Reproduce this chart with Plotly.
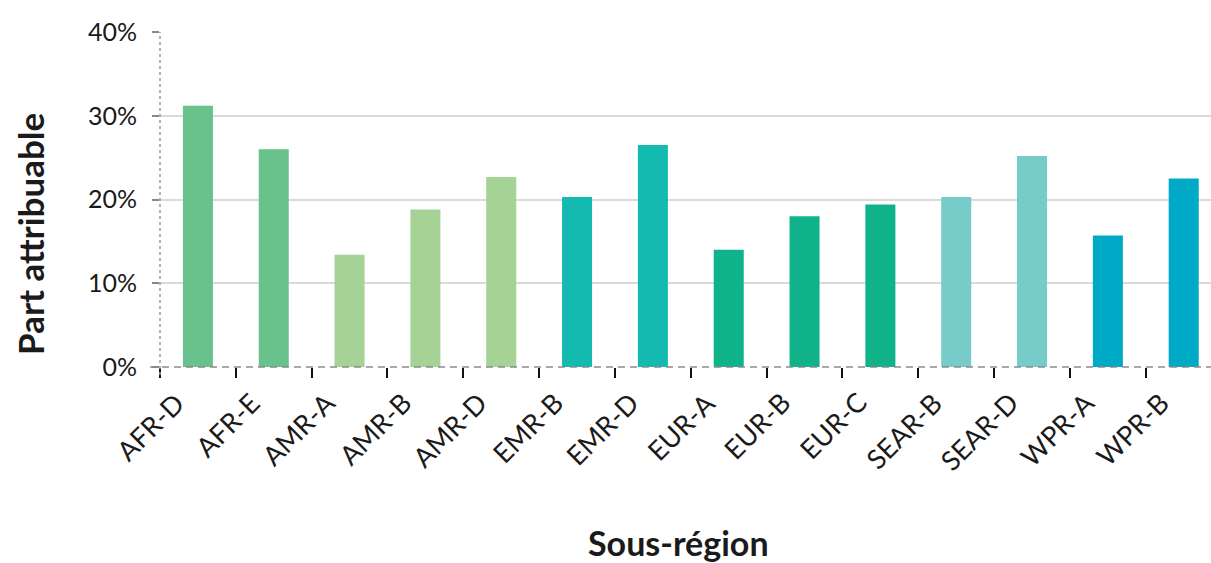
import plotly.graph_objects as go

# Attributable share by WHO sub-region (percent)
regions = ["AFR-D", "AFR-E", "AMR-A", "AMR-B", "AMR-D", "EMR-B", "EMR-D",
           "EUR-A", "EUR-B", "EUR-C", "SEAR-B", "SEAR-D", "WPR-A", "WPR-B"]
share = [31.2, 26.0, 13.4, 18.8, 22.7, 20.3, 26.5,
         14.0, 18.0, 19.4, 20.3, 25.2, 15.7, 22.5]
y_ticks = [0, 10, 20, 30, 40]
y_tick_labels = ["0%", "10%", "20%", "30%", "40%"]

# One colour per WHO region
region_colors = {
    "AFR": "#69c28c",
    "AMR": "#a5d396",
    "EMR": "#12bab0",
    "EUR": "#10b389",
    "SEAR": "#77cbc9",
    "WPR": "#00a9c5",
}
bar_colors = [region_colors[r.split("-")[0]] for r in regions]

FONT = "Lato"

fig = go.Figure(
    go.Bar(
        x=regions,
        y=share,
        marker=dict(color=bar_colors, line=dict(width=0)),
        width=0.396,
        hoverinfo="x+y",
    )
)

# Rotated category labels, hung below the baseline
category_labels = [
    dict(text=r, x=r, y=0, xref="x", yref="paper", textangle=-45,
         showarrow=False, xanchor="right", yanchor="top",
         xshift=-5, yshift=-16,
         font=dict(family=FONT, size=27, color="#1a1a1a"))
    for r in regions
]

fig.update_layout(
    width=1211,
    height=563,
    margin=dict(l=160, r=0, t=32, b=196),
    paper_bgcolor="white",
    plot_bgcolor="white",
    showlegend=False,
    font=dict(family=FONT, color="#222222"),
    xaxis=dict(
        type="category",
        range=[-0.5, 13.36],
        showgrid=False,
        zeroline=False,
        showline=False,
        ticks="outside",
        tickson="boundaries",
        ticklen=10,
        tickwidth=1.5,
        tickcolor="#111111",
        showticklabels=False,
    ),
    yaxis=dict(
        range=[0, 40],
        tickvals=y_ticks,
        ticktext=y_tick_labels,
        showgrid=True,
        gridcolor="#dadada",
        gridwidth=1.5,
        zeroline=False,
        showline=False,
        ticks="outside",
        ticklen=7,
        tickwidth=1.5,
        tickcolor="#888888",
        ticklabelstandoff=10,
        tickfont=dict(family=FONT, size=25, color="#1a1a1a"),
    ),
    shapes=[
        # dotted vertical axis line
        dict(type="line", xref="paper", yref="paper", x0=0, x1=0,
             y0=-0.024, y1=1, line=dict(color="#9a9a9a", width=1.5, dash="dot"),
             layer="above"),
        # dashed baseline at 0%
        dict(type="line", xref="paper", yref="paper", x0=-0.0095, x1=1,
             y0=0, y1=0, line=dict(color="#8a8a8a", width=1.5, dash="7px,5px"),
             layer="above"),
    ],
    annotations=category_labels + [
        dict(text="<b>Part attribuable</b>", xref="paper", yref="paper",
             x=-0.1237, y=0.397, textangle=-90, showarrow=False,
             font=dict(family=FONT, size=35, color="#1a1a1a"),
             xanchor="center", yanchor="middle"),
        dict(text="<b>Sous-région</b>", xref="paper", yref="paper",
             x=0.4929, y=-0.525, showarrow=False,
             font=dict(family=FONT, size=34, color="#1a1a1a"),
             xanchor="center", yanchor="middle"),
    ],
)

fig.write_html("out.html")
